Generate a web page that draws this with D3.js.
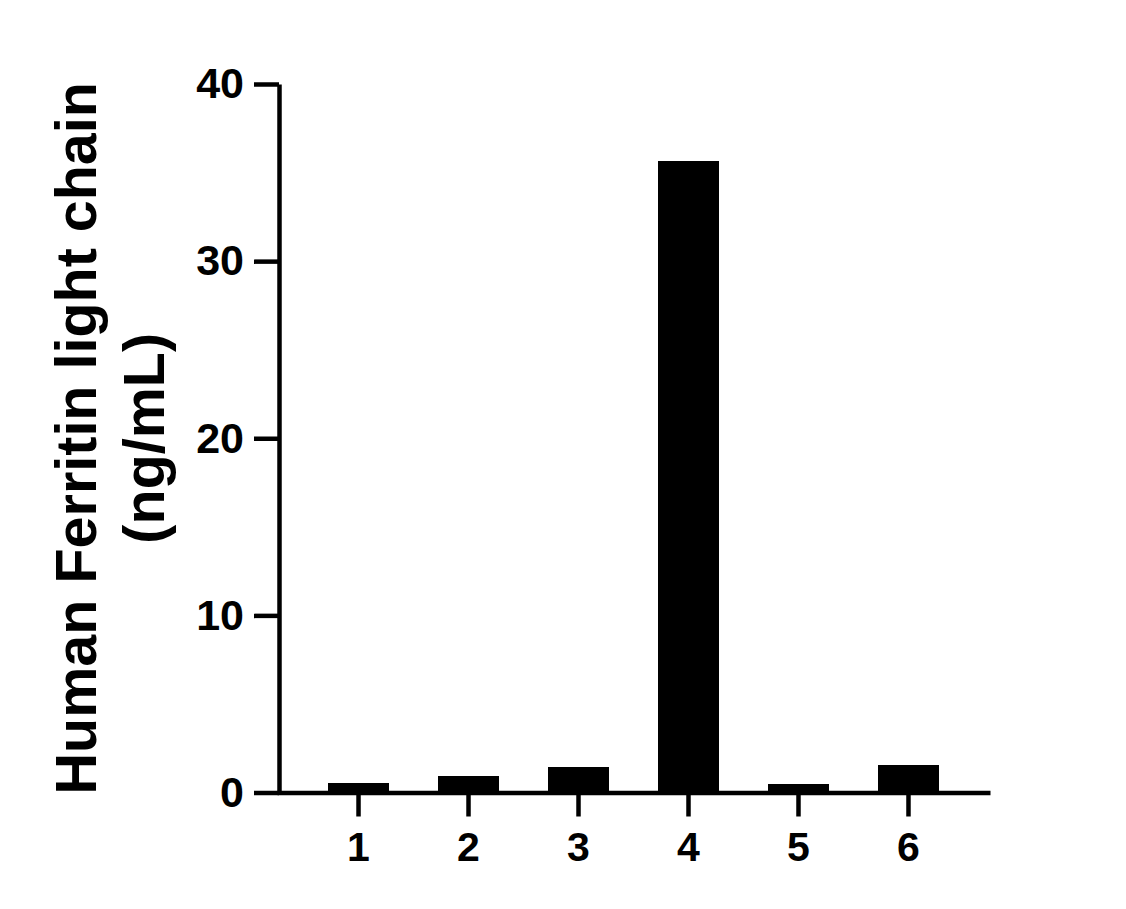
<!DOCTYPE html>
<html>
<head>
<meta charset="utf-8">
<script src="https://cdn.jsdelivr.net/npm/d3@7"></script>
<style>
  html, body { margin: 0; padding: 0; background: #fff; }
  svg { display: block; font-family: "Liberation Sans", Arial, sans-serif; font-weight: bold; }
</style>
</head>
<body>
<svg id="chart" width="1126" height="909"></svg>
<script>
// chart values
var samples = ['1', '2', '3', '4', '5', '6'];
var ferritin = [0.54, 0.95, 1.46, 35.65, 0.5, 1.57];
var yTicks = [0, 10, 20, 30, 40];
var yTitle = ['Human Ferritin light chain', '(ng/mL)'];

const svg = d3.select('#chart');

const x = d3.scaleBand()
  .domain(samples)
  .range([277, 990])
  .paddingInner(0.445)
  .paddingOuter(0.4636);

const y = d3.scaleLinear()
  .domain([0, 40])
  .range([792.5, 84]);

// bars
svg.append('g')
  .selectAll('rect')
  .data(ferritin)
  .enter()
  .append('rect')
  .attr('x', (d, i) => x(samples[i]))
  .attr('width', x.bandwidth())
  .attr('y', d => y(d))
  .attr('height', d => y(0) - y(d))
  .attr('fill', '#000')
  .attr('shape-rendering', 'crispEdges');

// y axis
const yAxis = svg.append('g')
  .attr('transform', 'translate(279,0)')
  .call(d3.axisLeft(y).tickValues(yTicks).tickSize(25).tickSizeOuter(0).tickPadding(10));

// x axis
const xAxis = svg.append('g')
  .attr('transform', `translate(0,${y(0)})`)
  .call(d3.axisBottom(x).tickSize(24).tickSizeOuter(0).tickPadding(15));

[yAxis, xAxis].forEach(g => {
  g.attr('font-family', null).attr('font-size', null);
  g.selectAll('path, line').attr('stroke', '#000').attr('stroke-width', 4.5);
  g.selectAll('text').attr('fill', '#000').style('font-weight', 'bold');
});
yAxis.selectAll('text').style('font-size', '43px');
xAxis.selectAll('text').style('font-size', '41px');

// y title, two lines
svg.append('g')
  .attr('transform', `translate(96,${(y(0) + y(40)) / 2}) rotate(-90)`)
  .selectAll('text')
  .data(yTitle)
  .enter()
  .append('text')
  .attr('x', 0)
  .attr('y', (d, i) => i * 68)
  .attr('text-anchor', 'middle')
  .style('font-size', '57.5px')
  .attr('fill', '#000')
  .text(d => d);
</script>
</body>
</html>
